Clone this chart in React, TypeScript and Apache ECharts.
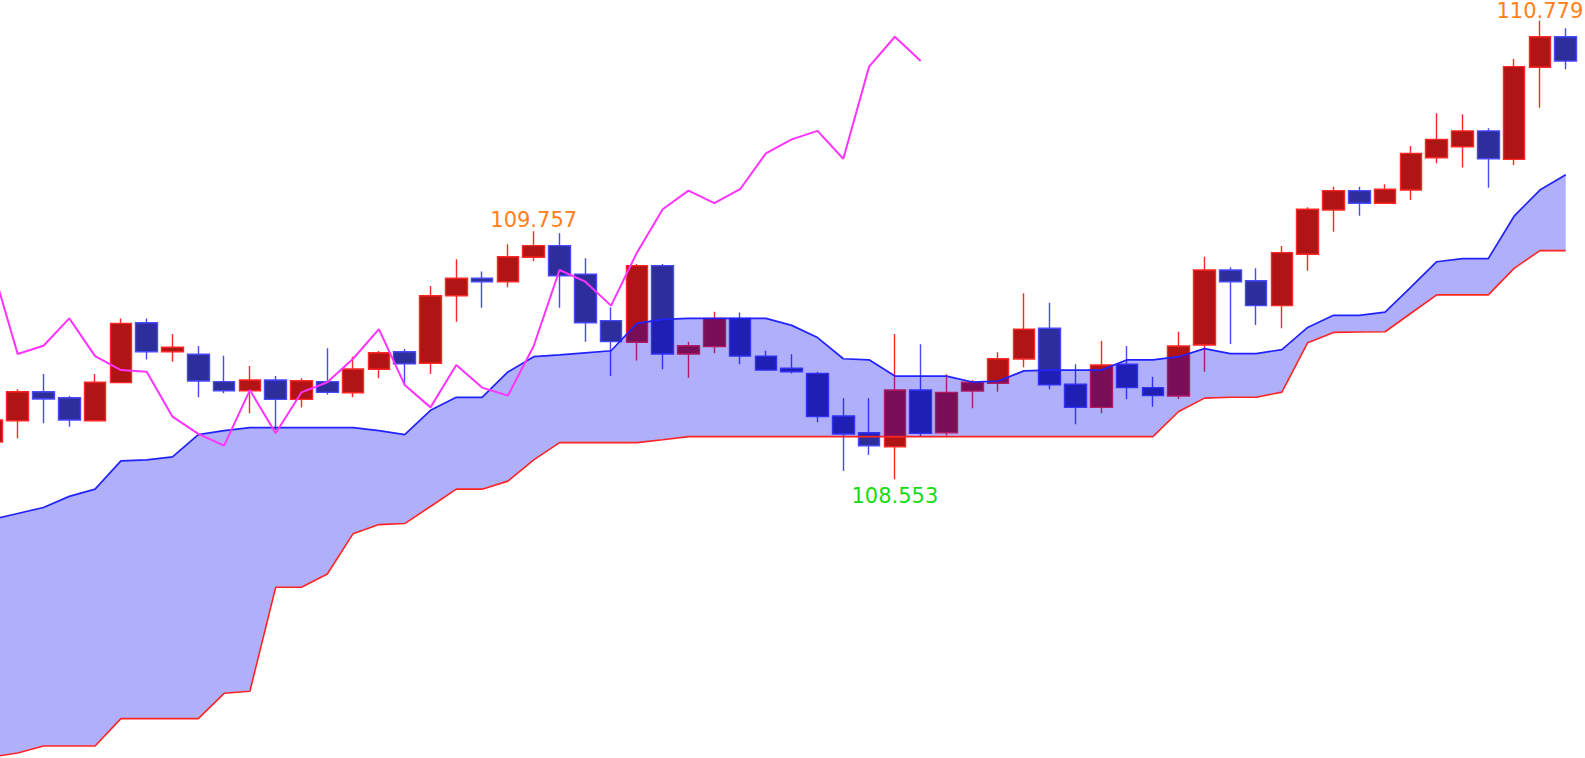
import React, { useEffect, useRef } from 'react';
import * as echarts from 'echarts';

const categories: string[] = Array.from({ length: 62 }, (_, i) => String(i + 1));

const opens = [108.734, 108.837, 108.978, 108.949, 108.837, 109.022, 109.313, 109.172, 109.160, 109.027, 108.983, 109.035, 108.941, 109.027, 108.973, 109.087, 109.172, 109.116, 109.444, 109.529, 109.512, 109.631, 109.687, 109.549, 109.323, 109.218, 109.590, 109.161, 109.197, 109.334, 109.151, 109.092, 109.067, 108.860, 108.779, 108.711, 108.986, 108.779, 108.981, 109.019, 109.137, 109.286, 109.014, 108.902, 109.111, 108.998, 108.957, 109.205, 109.569, 109.517, 109.396, 109.645, 109.860, 109.954, 109.893, 109.957, 110.114, 110.167, 110.244, 110.106, 110.553, 110.701];
const closes = [108.841, 108.978, 108.943, 108.841, 109.024, 109.310, 109.172, 109.194, 109.030, 108.983, 109.035, 108.941, 109.031, 108.975, 109.088, 109.167, 109.113, 109.444, 109.529, 109.512, 109.633, 109.687, 109.541, 109.313, 109.221, 109.590, 109.161, 109.201, 109.334, 109.151, 109.083, 109.075, 108.857, 108.773, 108.716, 108.986, 108.776, 108.975, 109.024, 109.138, 109.282, 109.011, 108.902, 109.108, 108.998, 108.959, 109.200, 109.569, 109.512, 109.396, 109.653, 109.864, 109.954, 109.893, 109.961, 110.135, 110.203, 110.244, 110.109, 110.556, 110.701, 110.583];
const lows = [108.719, 108.752, 108.825, 108.808, 108.837, 109.022, 109.135, 109.124, 108.951, 108.970, 108.873, 108.792, 108.902, 108.965, 108.951, 109.043, 109.006, 109.064, 109.318, 109.386, 109.485, 109.613, 109.386, 109.221, 109.054, 109.129, 109.087, 109.046, 109.165, 109.111, 109.079, 109.067, 108.830, 108.593, 108.671, 108.553, 108.760, 108.765, 108.898, 108.978, 109.097, 108.990, 108.820, 108.873, 108.941, 108.905, 108.943, 109.075, 109.210, 109.302, 109.286, 109.565, 109.755, 109.832, 109.893, 109.909, 110.087, 110.067, 109.968, 110.079, 110.357, 110.543];
const highs = [108.855, 108.990, 109.064, 108.957, 109.064, 109.334, 109.334, 109.258, 109.200, 109.153, 109.103, 109.054, 109.043, 109.189, 109.148, 109.176, 109.185, 109.491, 109.621, 109.561, 109.694, 109.757, 109.747, 109.626, 109.388, 109.598, 109.598, 109.221, 109.366, 109.362, 109.177, 109.160, 109.075, 108.946, 108.946, 109.258, 109.208, 109.063, 109.035, 109.169, 109.456, 109.410, 109.111, 109.224, 109.200, 109.051, 109.269, 109.633, 109.582, 109.577, 109.685, 109.873, 109.973, 109.973, 109.985, 110.171, 110.330, 110.325, 110.257, 110.593, 110.779, 110.742];

// Senkou span A (blue) and span B (red)
const spanA = [108.358, 108.387, 108.416, 108.470, 108.505, 108.642, 108.647, 108.662, 108.770, 108.789, 108.804, 108.804, 108.804, 108.804, 108.804, 108.789, 108.770, 108.888, 108.951, 108.951, 109.074, 109.148, 109.157, 109.167, 109.177, 109.310, 109.329, 109.334, 109.334, 109.334, 109.334, 109.300, 109.241, 109.138, 109.133, 109.054, 109.054, 109.054, 109.025, 109.030, 109.079, 109.083, 109.083, 109.083, 109.133, 109.133, 109.148, 109.187, 109.163, 109.163, 109.182, 109.290, 109.349, 109.349, 109.364, 109.486, 109.609, 109.624, 109.624, 109.830, 109.957, 110.031];
const spanB = [107.205, 107.224, 107.258, 107.258, 107.258, 107.391, 107.391, 107.391, 107.391, 107.514, 107.524, 108.029, 108.029, 108.093, 108.289, 108.333, 108.338, 108.421, 108.505, 108.505, 108.544, 108.647, 108.731, 108.731, 108.731, 108.731, 108.745, 108.760, 108.760, 108.760, 108.760, 108.760, 108.760, 108.760, 108.760, 108.760, 108.760, 108.760, 108.760, 108.760, 108.760, 108.760, 108.760, 108.760, 108.760, 108.760, 108.882, 108.947, 108.951, 108.951, 108.976, 109.216, 109.266, 109.268, 109.269, 109.359, 109.448, 109.448, 109.448, 109.577, 109.663, 109.663];

// Chikou span: close shifted back by 25 bars
const LAG = 25;

const ORANGE = '#FF8019';
const GREEN = '#14DC14';

export default function App() {
  const ref = useRef<HTMLDivElement>(null);
  useEffect(() => {
    if (!ref.current) return;
    document.body.style.margin = '0';
    const chart = echarts.init(ref.current, null, { renderer: 'svg' });
    const candles = opens.map((o, i) => [o, closes[i], lows[i], highs[i]]);
    const lagging = closes.slice(LAG);
    const cloudDiff = spanA.map((a, i) => +(a - spanB[i]).toFixed(3));
    const labelStyle = { show: true, formatter: '{c}', fontFamily: 'DejaVu Sans', fontSize: 21 };
    chart.setOption({
      animation: false,
      backgroundColor: '#ffffff',
      tooltip: { show: false },
      grid: { left: 0, right: 7.4, top: 0, bottom: 0, containLabel: false },
      xAxis: { type: 'category', data: categories, show: false, boundaryGap: true },
      yAxis: { type: 'value', min: 107.2, max: 110.8795, show: false, scale: true, splitLine: { show: false } },
      series: [
        {
          type: 'candlestick',
          data: candles,
          barWidth: 22,
          z: 2,
          itemStyle: {
            color: '#B01414',
            borderColor: '#FF2626',
            color0: '#2D2D9C',
            borderColor0: '#4848FF',
            borderWidth: 1.4,
          },
        },
        {
          type: 'line', data: spanB, stack: 'cloud', symbol: 'none', silent: true, z: 3,
          lineStyle: { opacity: 0 },
        },
        {
          type: 'line', data: cloudDiff, stack: 'cloud', symbol: 'none', silent: true, z: 3,
          lineStyle: { opacity: 0 },
          areaStyle: { color: 'rgb(0,0,240)', opacity: 0.31 },
        },
        {
          type: 'line', data: spanB, symbol: 'none', silent: true, z: 4,
          lineStyle: { color: '#FF2424', width: 1.6 },
        },
        {
          type: 'line', data: spanA, symbol: 'none', silent: true, z: 4,
          lineStyle: { color: '#2222FF', width: 1.7 },
        },
        {
          type: 'line', data: lagging, symbol: 'none', silent: true, z: 5,
          lineStyle: { color: '#FF33FF', width: 2 },
          markPoint: {
            symbol: 'circle',
            symbolSize: 1,
            itemStyle: { color: 'rgba(0,0,0,0)' },
            data: [
              { coord: [categories[21], highs[21]], value: highs[21], label: { ...labelStyle, position: 'top', distance: 0, color: ORANGE } },
              { coord: [categories[60], highs[60]], value: highs[60], label: { ...labelStyle, position: 'top', distance: -1, color: ORANGE } },
              { coord: [categories[35], lows[35]], value: lows[35], label: { ...labelStyle, position: 'bottom', distance: 6, color: GREEN } },
            ],
          },
        },
      ],
    });
    return () => chart.dispose();
  }, []);
  return (
    <div style={{ position: 'fixed', left: 0, top: 0, width: 1585, height: 758, overflow: 'hidden', background: '#ffffff' }}>
      <div ref={ref} style={{ width: 1607, height: 758, marginLeft: -21 }} />
    </div>
  );
}
